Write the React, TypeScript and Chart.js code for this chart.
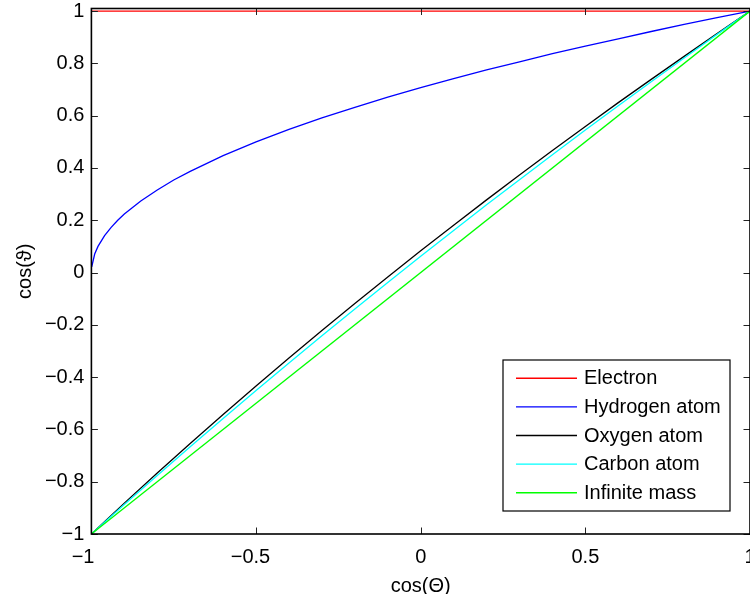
import React, { useEffect, useRef } from 'react';
import { Chart, registerables } from 'chart.js';

Chart.register(...registerables);

// ---- data ----
const seriesLabels = ['Electron', 'Hydrogen atom', 'Oxygen atom', 'Carbon atom', 'Infinite mass'];
const seriesColors = ['#ff0000', '#0000ff', '#000000', '#00ffff', '#00ff00'];

const electronX = [-1, 1];
const electronY = [1, 1];

const hydrogenX = [-0.999, -0.99, -0.98, -0.96, -0.94, -0.92, -0.9, -0.85, -0.8, -0.75, -0.7, -0.6, -0.5, -0.4, -0.3, -0.2, -0.1, 0, 0.1, 0.2, 0.3, 0.4, 0.5, 0.6, 0.7, 0.8, 0.9, 1];
const hydrogenY = [0.022, 0.071, 0.1, 0.141, 0.173, 0.2, 0.224, 0.274, 0.316, 0.354, 0.387, 0.447, 0.5, 0.548, 0.592, 0.632, 0.671, 0.707, 0.742, 0.775, 0.806, 0.837, 0.866, 0.894, 0.922, 0.949, 0.975, 1];

const heavyX = [-1, -0.9, -0.8, -0.7, -0.6, -0.5, -0.4, -0.3, -0.2, -0.1, 0, 0.1, 0.2, 0.3, 0.4, 0.5, 0.6, 0.7, 0.8, 0.9, 1];
const oxygenY = [-1, -0.882, -0.767, -0.654, -0.543, -0.434, -0.327, -0.222, -0.118, -0.017, 0.083, 0.181, 0.278, 0.373, 0.467, 0.559, 0.65, 0.739, 0.827, 0.914, 1];
const carbonY = [-1, -0.887, -0.776, -0.666, -0.558, -0.451, -0.346, -0.242, -0.139, -0.038, 0.062, 0.161, 0.259, 0.355, 0.451, 0.545, 0.638, 0.73, 0.821, 0.911, 1];

const infiniteX = [-1, 1];
const infiniteY = [-1, 1];

const xTicks = [-1, -0.5, 0, 0.5, 1];
const yTicks = [-1, -0.8, -0.6, -0.4, -0.2, 0, 0.2, 0.4, 0.6, 0.8, 1];

const seriesX = [electronX, hydrogenX, heavyX, heavyX, infiniteX];
const seriesY = [electronY, hydrogenY, oxygenY, carbonY, infiniteY];

const FONT_FAMILY = '"Liberation Sans", Arial, Helvetica, sans-serif';
const FONT = { family: FONT_FAMILY, size: 20 };

const fmt = (v: number) => {
  const s = String(Number(v.toFixed(2)));
  return s.replace('-', '\u2212');
};

const framePlugin = {
  id: 'matlabFrame',
  afterDatasetsDraw(chart: any) {
    const { ctx, chartArea: a } = chart;
    const xs = chart.scales.x;
    const ys = chart.scales.y;
    ctx.save();
    // inward tick marks on all four sides
    const tl = 6.5;
    ctx.strokeStyle = '#222';
    ctx.lineWidth = 1;
    ctx.beginPath();
    for (const v of xTicks) {
      const px = Math.round(xs.getPixelForValue(v)) + 0.5;
      ctx.moveTo(px, a.bottom);
      ctx.lineTo(px, a.bottom - tl);
      ctx.moveTo(px, a.top);
      ctx.lineTo(px, a.top + tl);
    }
    for (const v of yTicks) {
      const py = Math.round(ys.getPixelForValue(v)) + 0.5;
      ctx.moveTo(a.left, py);
      ctx.lineTo(a.left + tl, py);
      ctx.moveTo(a.right, py);
      ctx.lineTo(a.right - tl, py);
    }
    ctx.stroke();
    // axes frame
    ctx.strokeStyle = '#000';
    ctx.lineWidth = 1.6;
    ctx.strokeRect(a.left, a.top, a.right - a.left, a.bottom - a.top);

    // legend box
    const bx = 503, by = 360, bw = 227, bh = 151;
    ctx.fillStyle = '#fff';
    ctx.fillRect(bx, by, bw, bh);
    ctx.strokeStyle = '#000';
    ctx.lineWidth = 1.2;
    ctx.strokeRect(bx, by, bw, bh);
    ctx.font = `20px ${FONT_FAMILY}`;
    ctx.textBaseline = 'middle';
    ctx.textAlign = 'left';
    seriesLabels.forEach((label, i) => {
      const y = 378.3 + i * 28.6;
      ctx.strokeStyle = seriesColors[i];
      ctx.lineWidth = 1.4;
      ctx.beginPath();
      ctx.moveTo(516, y);
      ctx.lineTo(577, y);
      ctx.stroke();
      ctx.fillStyle = '#000';
      ctx.fillText(label, 584, y + 0.5);
    });
    ctx.restore();
  },
};

export default function App() {
  const ref = useRef<HTMLCanvasElement | null>(null);

  useEffect(() => {
    if (!ref.current) return;
    const datasets = seriesLabels.map((label, i) => ({
      label,
      data: seriesX[i].map((x, j) => ({ x, y: seriesY[i][j] })),
      borderColor: seriesColors[i],
      backgroundColor: seriesColors[i],
      borderWidth: 1.3,
      pointRadius: 0,
      fill: false,
      tension: 0,
      order: seriesLabels.length - i,
    }));
    const chart = new Chart(ref.current, {
      type: 'line',
      data: { datasets },
      plugins: [framePlugin],
      options: {
        animation: false,
        responsive: false,
        maintainAspectRatio: false,
        layout: { padding: { top: 8.5, right: 0, left: 0, bottom: 0 } },
        plugins: {
          legend: { display: false },
          tooltip: { enabled: false },
        },
        scales: {
          x: {
            type: 'linear',
            min: -1,
            max: 1,
            afterBuildTicks: (s: any) => {
              s.ticks = xTicks.map((v) => ({ value: v }));
            },
            afterFit: (s: any) => {
              s.height = 60;
              s.paddingLeft = 0;
              s.paddingRight = 0;
            },
            grid: { display: false, drawTicks: false },
            border: { display: false },
            ticks: {
              color: '#000',
              font: FONT,
              padding: 11,
              maxRotation: 0,
              minRotation: 0,
              autoSkip: false,
              callback: (v: any) => {
                const n = Number(v);
                const s = fmt(n);
                if (n <= -1) return s + '   ';
                if (n < 0) return s + '  ';
                return s;
              },
            },
            title: {
              display: true,
              text: 'cos(\u0398)',
              color: '#000',
              font: FONT,
              padding: { top: 0, bottom: -4 },
            },
          },
          y: {
            type: 'linear',
            min: -1,
            max: 1.01,
            afterBuildTicks: (s: any) => {
              s.ticks = yTicks.map((v) => ({ value: v }));
            },
            afterFit: (s: any) => {
              s.width = 91.4;
              s.paddingTop = 0;
              s.paddingBottom = 0;
            },
            grid: { display: false, drawTicks: false },
            border: { display: false },
            ticks: {
              color: '#000',
              font: FONT,
              padding: 7,
              autoSkip: false,
              callback: (v: any) => fmt(Number(v)),
            },
            title: {
              display: true,
              text: 'cos(\u03D1)',
              color: '#000',
              font: FONT,
              padding: { top: 13.5, bottom: 0 },
            },
          },
        },
      },
    } as any);
    return () => chart.destroy();
  }, []);

  return (
    <div style={{ position: 'fixed', left: 0, top: 0, width: 750, height: 594, background: '#fff' }}>
      <canvas ref={ref} width={750} height={594} style={{ display: 'block', width: 750, height: 594 }} />
    </div>
  );
}
